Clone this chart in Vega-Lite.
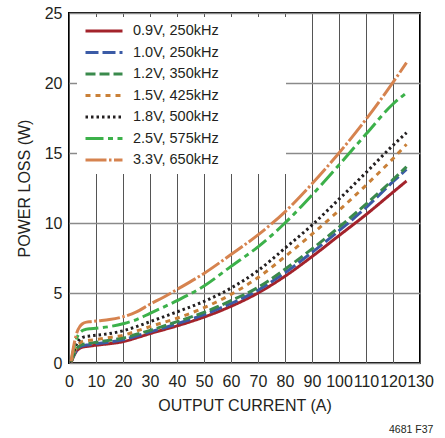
{
  "$schema": "https://vega.github.io/schema/vega-lite/v6.json",
  "width": 351,
  "height": 350,
  "autosize": {"type": "none"},
  "padding": {"left": 69, "top": 13, "right": 25, "bottom": 75},
  "background": "white",
  "title": {"text": "4681 F37", "orient": "bottom", "anchor": "end", "fontSize": 10.5, "fontWeight": "normal", "font": "Liberation Sans", "color": "#231f20", "offset": 12},
  "config": {
    "font": "Liberation Sans",
    "view": {"stroke": "#000000", "strokeWidth": 2},
    "axis": {"domain": false, "ticks": false, "grid": true, "gridOpacity": 1, "labelFont": "Liberation Sans", "labelFontSize": 16, "labelColor": "#231f20", "titleFont": "Liberation Sans", "titleFontSize": 16, "titleFontWeight": "normal", "titleColor": "#231f20"},
    "axisX": {"labelPadding": 10, "titlePadding": 8, "gridColor": "#555555", "gridWidth": 1, "labelFlush": false, "labelOverlap": false},
    "axisY": {"labelPadding": 7, "titlePadding": 12, "gridColor": "#8a8a8a", "gridWidth": 1.5},
    "legend": {"orient": "none", "legendX": 8, "legendY": 4, "padding": 7, "fillColor": "white", "strokeColor": null, "symbolType": "stroke", "symbolSize": 1369, "symbolStrokeWidth": 3, "clipHeight": 14, "rowPadding": 6.5, "labelFont": "Liberation Sans", "labelFontSize": 14.5, "labelColor": "#231f20", "labelOffset": 9, "titleOrient": "right", "titleFontSize": 17, "titleColor": "white", "titlePadding": 3}
  },
  "data": {"values": [
    {"current": 0.8, "loss": 0.05, "series": "0.9V, 250kHz"},
    {"current": 1.5, "loss": 0.39, "series": "0.9V, 250kHz"},
    {"current": 2.2, "loss": 0.66, "series": "0.9V, 250kHz"},
    {"current": 3, "loss": 0.9, "series": "0.9V, 250kHz"},
    {"current": 4, "loss": 1.05, "series": "0.9V, 250kHz"},
    {"current": 5, "loss": 1.13, "series": "0.9V, 250kHz"},
    {"current": 6.5, "loss": 1.18, "series": "0.9V, 250kHz"},
    {"current": 8, "loss": 1.22, "series": "0.9V, 250kHz"},
    {"current": 10, "loss": 1.27, "series": "0.9V, 250kHz"},
    {"current": 15, "loss": 1.38, "series": "0.9V, 250kHz"},
    {"current": 20, "loss": 1.52, "series": "0.9V, 250kHz"},
    {"current": 25, "loss": 1.8, "series": "0.9V, 250kHz"},
    {"current": 30, "loss": 2.1, "series": "0.9V, 250kHz"},
    {"current": 40, "loss": 2.65, "series": "0.9V, 250kHz"},
    {"current": 50, "loss": 3.28, "series": "0.9V, 250kHz"},
    {"current": 60, "loss": 4.05, "series": "0.9V, 250kHz"},
    {"current": 70, "loss": 5.0, "series": "0.9V, 250kHz"},
    {"current": 80, "loss": 6.2, "series": "0.9V, 250kHz"},
    {"current": 90, "loss": 7.6, "series": "0.9V, 250kHz"},
    {"current": 100, "loss": 9.1, "series": "0.9V, 250kHz"},
    {"current": 110, "loss": 10.6, "series": "0.9V, 250kHz"},
    {"current": 120, "loss": 12.2, "series": "0.9V, 250kHz"},
    {"current": 125, "loss": 13.0, "series": "0.9V, 250kHz"},

    {"current": 0.8, "loss": 0.05, "series": "1.0V, 250kHz"},
    {"current": 1.5, "loss": 0.42, "series": "1.0V, 250kHz"},
    {"current": 2.2, "loss": 0.72, "series": "1.0V, 250kHz"},
    {"current": 3, "loss": 0.97, "series": "1.0V, 250kHz"},
    {"current": 4, "loss": 1.14, "series": "1.0V, 250kHz"},
    {"current": 5, "loss": 1.23, "series": "1.0V, 250kHz"},
    {"current": 6.5, "loss": 1.28, "series": "1.0V, 250kHz"},
    {"current": 8, "loss": 1.32, "series": "1.0V, 250kHz"},
    {"current": 10, "loss": 1.37, "series": "1.0V, 250kHz"},
    {"current": 15, "loss": 1.5, "series": "1.0V, 250kHz"},
    {"current": 20, "loss": 1.65, "series": "1.0V, 250kHz"},
    {"current": 25, "loss": 1.93, "series": "1.0V, 250kHz"},
    {"current": 30, "loss": 2.22, "series": "1.0V, 250kHz"},
    {"current": 40, "loss": 2.8, "series": "1.0V, 250kHz"},
    {"current": 50, "loss": 3.45, "series": "1.0V, 250kHz"},
    {"current": 60, "loss": 4.25, "series": "1.0V, 250kHz"},
    {"current": 70, "loss": 5.2, "series": "1.0V, 250kHz"},
    {"current": 80, "loss": 6.45, "series": "1.0V, 250kHz"},
    {"current": 90, "loss": 7.9, "series": "1.0V, 250kHz"},
    {"current": 100, "loss": 9.45, "series": "1.0V, 250kHz"},
    {"current": 110, "loss": 11.1, "series": "1.0V, 250kHz"},
    {"current": 120, "loss": 12.95, "series": "1.0V, 250kHz"},
    {"current": 125, "loss": 13.83, "series": "1.0V, 250kHz"},

    {"current": 0.8, "loss": 0.06, "series": "1.2V, 350kHz"},
    {"current": 1.5, "loss": 0.46, "series": "1.2V, 350kHz"},
    {"current": 2.2, "loss": 0.77, "series": "1.2V, 350kHz"},
    {"current": 3, "loss": 1.05, "series": "1.2V, 350kHz"},
    {"current": 4, "loss": 1.23, "series": "1.2V, 350kHz"},
    {"current": 5, "loss": 1.33, "series": "1.2V, 350kHz"},
    {"current": 6.5, "loss": 1.38, "series": "1.2V, 350kHz"},
    {"current": 8, "loss": 1.42, "series": "1.2V, 350kHz"},
    {"current": 10, "loss": 1.48, "series": "1.2V, 350kHz"},
    {"current": 15, "loss": 1.62, "series": "1.2V, 350kHz"},
    {"current": 20, "loss": 1.78, "series": "1.2V, 350kHz"},
    {"current": 25, "loss": 2.05, "series": "1.2V, 350kHz"},
    {"current": 30, "loss": 2.33, "series": "1.2V, 350kHz"},
    {"current": 40, "loss": 2.95, "series": "1.2V, 350kHz"},
    {"current": 50, "loss": 3.62, "series": "1.2V, 350kHz"},
    {"current": 60, "loss": 4.45, "series": "1.2V, 350kHz"},
    {"current": 70, "loss": 5.4, "series": "1.2V, 350kHz"},
    {"current": 80, "loss": 6.7, "series": "1.2V, 350kHz"},
    {"current": 90, "loss": 8.15, "series": "1.2V, 350kHz"},
    {"current": 100, "loss": 9.7, "series": "1.2V, 350kHz"},
    {"current": 110, "loss": 11.35, "series": "1.2V, 350kHz"},
    {"current": 120, "loss": 13.1, "series": "1.2V, 350kHz"},
    {"current": 125, "loss": 14.02, "series": "1.2V, 350kHz"},

    {"current": 0.8, "loss": 0.06, "series": "1.5V, 425kHz"},
    {"current": 1.5, "loss": 0.53, "series": "1.5V, 425kHz"},
    {"current": 2.2, "loss": 0.9, "series": "1.5V, 425kHz"},
    {"current": 3, "loss": 1.22, "series": "1.5V, 425kHz"},
    {"current": 4, "loss": 1.42, "series": "1.5V, 425kHz"},
    {"current": 5, "loss": 1.54, "series": "1.5V, 425kHz"},
    {"current": 6.5, "loss": 1.6, "series": "1.5V, 425kHz"},
    {"current": 8, "loss": 1.63, "series": "1.5V, 425kHz"},
    {"current": 10, "loss": 1.68, "series": "1.5V, 425kHz"},
    {"current": 15, "loss": 1.82, "series": "1.5V, 425kHz"},
    {"current": 20, "loss": 1.98, "series": "1.5V, 425kHz"},
    {"current": 25, "loss": 2.28, "series": "1.5V, 425kHz"},
    {"current": 30, "loss": 2.6, "series": "1.5V, 425kHz"},
    {"current": 40, "loss": 3.2, "series": "1.5V, 425kHz"},
    {"current": 50, "loss": 3.95, "series": "1.5V, 425kHz"},
    {"current": 60, "loss": 4.9, "series": "1.5V, 425kHz"},
    {"current": 70, "loss": 6.1, "series": "1.5V, 425kHz"},
    {"current": 80, "loss": 7.6, "series": "1.5V, 425kHz"},
    {"current": 90, "loss": 9.2, "series": "1.5V, 425kHz"},
    {"current": 100, "loss": 10.9, "series": "1.5V, 425kHz"},
    {"current": 110, "loss": 12.7, "series": "1.5V, 425kHz"},
    {"current": 120, "loss": 14.6, "series": "1.5V, 425kHz"},
    {"current": 125, "loss": 15.62, "series": "1.5V, 425kHz"},

    {"current": 0.8, "loss": 0.08, "series": "1.8V, 500kHz"},
    {"current": 1.5, "loss": 0.63, "series": "1.8V, 500kHz"},
    {"current": 2.2, "loss": 1.06, "series": "1.8V, 500kHz"},
    {"current": 3, "loss": 1.44, "series": "1.8V, 500kHz"},
    {"current": 4, "loss": 1.69, "series": "1.8V, 500kHz"},
    {"current": 5, "loss": 1.82, "series": "1.8V, 500kHz"},
    {"current": 6.5, "loss": 1.9, "series": "1.8V, 500kHz"},
    {"current": 8, "loss": 1.94, "series": "1.8V, 500kHz"},
    {"current": 10, "loss": 1.98, "series": "1.8V, 500kHz"},
    {"current": 15, "loss": 2.1, "series": "1.8V, 500kHz"},
    {"current": 20, "loss": 2.3, "series": "1.8V, 500kHz"},
    {"current": 25, "loss": 2.6, "series": "1.8V, 500kHz"},
    {"current": 30, "loss": 2.95, "series": "1.8V, 500kHz"},
    {"current": 40, "loss": 3.65, "series": "1.8V, 500kHz"},
    {"current": 50, "loss": 4.4, "series": "1.8V, 500kHz"},
    {"current": 60, "loss": 5.35, "series": "1.8V, 500kHz"},
    {"current": 70, "loss": 6.6, "series": "1.8V, 500kHz"},
    {"current": 80, "loss": 8.2, "series": "1.8V, 500kHz"},
    {"current": 90, "loss": 9.85, "series": "1.8V, 500kHz"},
    {"current": 100, "loss": 11.7, "series": "1.8V, 500kHz"},
    {"current": 110, "loss": 13.6, "series": "1.8V, 500kHz"},
    {"current": 120, "loss": 15.55, "series": "1.8V, 500kHz"},
    {"current": 125, "loss": 16.45, "series": "1.8V, 500kHz"},

    {"current": 0.8, "loss": 0.1, "series": "2.5V, 575kHz"},
    {"current": 1.5, "loss": 0.8, "series": "2.5V, 575kHz"},
    {"current": 2.2, "loss": 1.36, "series": "2.5V, 575kHz"},
    {"current": 3, "loss": 1.84, "series": "2.5V, 575kHz"},
    {"current": 4, "loss": 2.15, "series": "2.5V, 575kHz"},
    {"current": 5, "loss": 2.32, "series": "2.5V, 575kHz"},
    {"current": 6.5, "loss": 2.42, "series": "2.5V, 575kHz"},
    {"current": 8, "loss": 2.45, "series": "2.5V, 575kHz"},
    {"current": 10, "loss": 2.48, "series": "2.5V, 575kHz"},
    {"current": 15, "loss": 2.6, "series": "2.5V, 575kHz"},
    {"current": 20, "loss": 2.8, "series": "2.5V, 575kHz"},
    {"current": 25, "loss": 3.1, "series": "2.5V, 575kHz"},
    {"current": 30, "loss": 3.55, "series": "2.5V, 575kHz"},
    {"current": 40, "loss": 4.45, "series": "2.5V, 575kHz"},
    {"current": 50, "loss": 5.5, "series": "2.5V, 575kHz"},
    {"current": 60, "loss": 6.9, "series": "2.5V, 575kHz"},
    {"current": 70, "loss": 8.3, "series": "2.5V, 575kHz"},
    {"current": 80, "loss": 10.0, "series": "2.5V, 575kHz"},
    {"current": 90, "loss": 12.0, "series": "2.5V, 575kHz"},
    {"current": 100, "loss": 14.15, "series": "2.5V, 575kHz"},
    {"current": 110, "loss": 16.35, "series": "2.5V, 575kHz"},
    {"current": 120, "loss": 18.5, "series": "2.5V, 575kHz"},
    {"current": 125, "loss": 19.3, "series": "2.5V, 575kHz"},

    {"current": 0.8, "loss": 0.12, "series": "3.3V, 650kHz"},
    {"current": 1.5, "loss": 0.96, "series": "3.3V, 650kHz"},
    {"current": 2.2, "loss": 1.64, "series": "3.3V, 650kHz"},
    {"current": 3, "loss": 2.22, "series": "3.3V, 650kHz"},
    {"current": 4, "loss": 2.6, "series": "3.3V, 650kHz"},
    {"current": 5, "loss": 2.8, "series": "3.3V, 650kHz"},
    {"current": 6.5, "loss": 2.92, "series": "3.3V, 650kHz"},
    {"current": 8, "loss": 2.95, "series": "3.3V, 650kHz"},
    {"current": 10, "loss": 3.0, "series": "3.3V, 650kHz"},
    {"current": 15, "loss": 3.1, "series": "3.3V, 650kHz"},
    {"current": 20, "loss": 3.3, "series": "3.3V, 650kHz"},
    {"current": 25, "loss": 3.65, "series": "3.3V, 650kHz"},
    {"current": 30, "loss": 4.2, "series": "3.3V, 650kHz"},
    {"current": 35, "loss": 4.7, "series": "3.3V, 650kHz"},
    {"current": 40, "loss": 5.25, "series": "3.3V, 650kHz"},
    {"current": 50, "loss": 6.4, "series": "3.3V, 650kHz"},
    {"current": 60, "loss": 7.75, "series": "3.3V, 650kHz"},
    {"current": 70, "loss": 9.15, "series": "3.3V, 650kHz"},
    {"current": 80, "loss": 10.8, "series": "3.3V, 650kHz"},
    {"current": 90, "loss": 12.8, "series": "3.3V, 650kHz"},
    {"current": 100, "loss": 15.0, "series": "3.3V, 650kHz"},
    {"current": 110, "loss": 17.4, "series": "3.3V, 650kHz"},
    {"current": 120, "loss": 20.05, "series": "3.3V, 650kHz"},
    {"current": 125, "loss": 21.45, "series": "3.3V, 650kHz"}
  ]},
  "mark": {"type": "line", "strokeWidth": 3, "interpolate": "monotone", "strokeCap": "butt"},
  "encoding": {
    "x": {"field": "current", "type": "quantitative", "scale": {"domain": [0, 130], "nice": false}, "axis": {"values": [0, 10, 20, 30, 40, 50, 60, 70, 80, 90, 100, 110, 120, 130], "title": "OUTPUT CURRENT (A)"}},
    "y": {"field": "loss", "type": "quantitative", "scale": {"domain": [0, 25], "nice": false}, "axis": {"values": [0, 5, 10, 15, 20, 25], "title": "POWER LOSS (W)"}},
    "color": {"field": "series", "type": "nominal", "title": "xxxxxx",
      "scale": {"domain": ["0.9V, 250kHz", "1.0V, 250kHz", "1.2V, 350kHz", "1.5V, 425kHz", "1.8V, 500kHz", "2.5V, 575kHz", "3.3V, 650kHz"], "range": ["#a3232b", "#3b5ba6", "#3a8a4c", "#c98038", "#231f20", "#3cb14a", "#d6834f"]}},
    "strokeDash": {"field": "series", "type": "nominal", "title": "xxxxxx",
      "scale": {"domain": ["0.9V, 250kHz", "1.0V, 250kHz", "1.2V, 350kHz", "1.5V, 425kHz", "1.8V, 500kHz", "2.5V, 575kHz", "3.3V, 650kHz"], "range": [[1, 0], [13, 4], [10, 4], [5, 5], [2.5, 3], [18, 4.5, 5, 4.5], [21, 2.5, 2.5, 2.5]]}}
  }
}
